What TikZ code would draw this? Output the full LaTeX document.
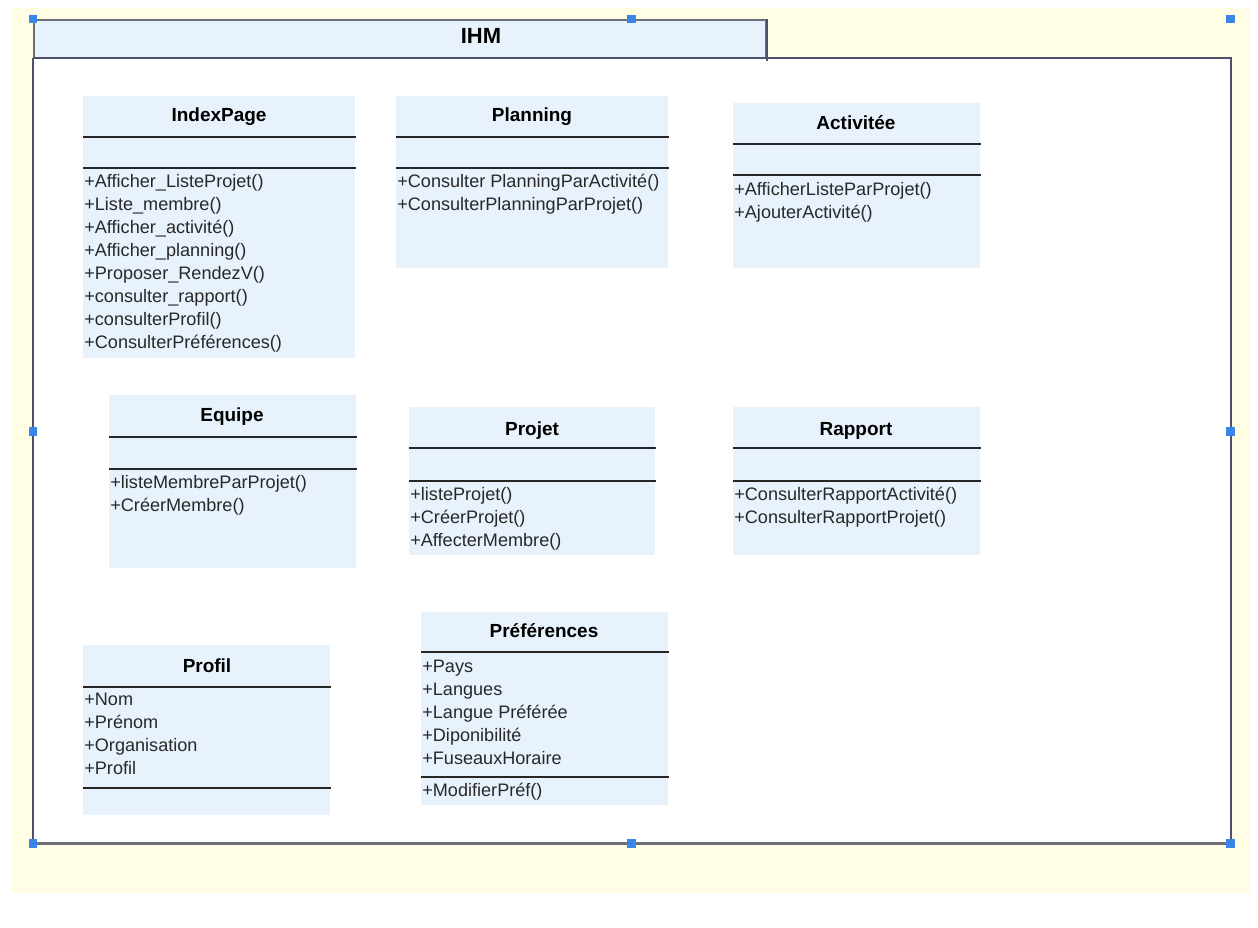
\documentclass[tikz,border=0pt]{standalone}
\usepackage{fontspec}
\setmainfont{Liberation Sans}
\usepackage{xcolor}
\usetikzlibrary{positioning}
\usetikzlibrary{calc}
\definecolor{pagecolor}{RGB}{255, 254, 228}
\definecolor{classcolor}{RGB}{232, 242, 253}
\definecolor{framecolor}{RGB}{78, 80, 110}
\definecolor{tabedgecolor}{RGB}{110, 110, 120}
\definecolor{handlecolor}{RGB}{58, 134, 232}
\definecolor{membercolor}{RGB}{40, 40, 40}
\tikzstyle{classbox} = [
    rectangle,
    fill=classcolor,
    anchor=north west,
    inner sep=0pt
]
\tikzstyle{classtitle} = [anchor=base, inner sep=0pt, font=\bfseries\fontsize{10.8}{12}\selectfont, text=black]
\tikzstyle{member} = [anchor=base west, inner sep=0pt, font=\fontsize{10.3}{12}\selectfont, text=membercolor]
\tikzstyle{sep} = [line width=0.9pt, black!85]
\tikzstyle{frame} = [line width=1pt, framecolor]
\tikzstyle{handle} = [rectangle, fill=handlecolor, minimum size=5pt, inner sep=0pt]
% one class compartment list, one name per line
\newcommand{\classmembers}[4]{%
    \foreach \txt [count=\i] in {#4}
        \node[member] (#1-\i) at (#2, {#3+23*(\i-1)}) {\txt};
}

\begin{document}
\begin{tikzpicture}[x=0.02cm, y=-0.02cm]

	% Canvas
	\useasboundingbox[fill=white] (0,0) rectangle (1258,928);
	\fill[pagecolor] (12,8) rectangle (1250,893);

	%
	% Package IHM
	\node[classbox, minimum width=732*0.02cm, minimum height=40*0.02cm, draw=tabedgecolor, line width=1pt] (ihmtab) at (33,19) {};
	\node[classbox, fill=white, minimum width=1197*0.02cm, minimum height=785*0.02cm] (ihm) at (33,58) {};
	\draw[frame] (ihm.north west) -- (ihm.north east) -- (ihm.south east);
	\draw[frame] (ihm.north west) -- (ihm.south west);
	\draw[frame] (ihmtab.north east) -- (ihmtab.south east);
	\draw[line width=1.6pt, tabedgecolor] (ihm.south west) -- (ihm.south east);
	\node[classtitle, font=\bfseries\fontsize{12.5}{14}\selectfont] (ihmlabel) at (481,44) {IHM};

	%
	% First row

	% IndexPage
	\node[classbox, minimum width=272*0.02cm, minimum height=262*0.02cm] (indexpage) at (83,96) {};
	\node[classtitle] (indexpage-title) at (219,122) {IndexPage};
	\draw[sep] (indexpage.west |- 0,137) -- (indexpage.east |- 0,137);
	\draw[sep] (indexpage.west |- 0,168) -- (indexpage.east |- 0,168);
	\classmembers{indexpage}{84}{188}{+Afficher\_ListeProjet(), +Liste\_membre(), +Afficher\_activité(), +Afficher\_planning(), +Proposer\_RendezV(), +consulter\_rapport(), +consulterProfil(), +ConsulterPréférences()}

	% Planning
	\node[classbox, minimum width=272*0.02cm, minimum height=172*0.02cm] (planning) at (396,96) {};
	\node[classtitle] (planning-title) at (532,122) {Planning};
	\draw[sep] (planning.west |- 0,137) -- (planning.east |- 0,137);
	\draw[sep] (planning.west |- 0,168) -- (planning.east |- 0,168);
	\classmembers{planning}{397}{188}{+Consulter PlanningParActivité(), +ConsulterPlanningParProjet()}

	% Activitee
	\node[classbox, minimum width=247*0.02cm, minimum height=165*0.02cm] (activitee) at (733,103) {};
	\node[classtitle] (activitee-title) at (856,130) {Activitée};
	\draw[sep] (activitee.west |- 0,144) -- (activitee.east |- 0,144);
	\draw[sep] (activitee.west |- 0,175) -- (activitee.east |- 0,175);
	\classmembers{activitee}{734}{196}{+AfficherListeParProjet(), +AjouterActivité()}

	%
	% Second row

	% Equipe
	\node[classbox, minimum width=247*0.02cm, minimum height=173*0.02cm] (equipe) at (109,395) {};
	\node[classtitle] (equipe-title) at (232,422) {Equipe};
	\draw[sep] (equipe.west |- 0,437) -- (equipe.east |- 0,437);
	\draw[sep] (equipe.west |- 0,469) -- (equipe.east |- 0,469);
	\classmembers{equipe}{110}{489}{+listeMembreParProjet(), +CréerMembre()}

	% Projet
	\node[classbox, minimum width=246*0.02cm, minimum height=148*0.02cm] (projet) at (409,407) {};
	\node[classtitle] (projet-title) at (532,436) {Projet};
	\draw[sep] (projet.west |- 0,448) -- (projet.east |- 0,448);
	\draw[sep] (projet.west |- 0,481) -- (projet.east |- 0,481);
	\classmembers{projet}{410}{501}{+listeProjet(), +CréerProjet(), +AffecterMembre()}

	% Rapport
	\node[classbox, minimum width=247*0.02cm, minimum height=148*0.02cm] (rapport) at (733,407) {};
	\node[classtitle] (rapport-title) at (856,436) {Rapport};
	\draw[sep] (rapport.west |- 0,448) -- (rapport.east |- 0,448);
	\draw[sep] (rapport.west |- 0,481) -- (rapport.east |- 0,481);
	\classmembers{rapport}{734}{501}{+ConsulterRapportActivité(), +ConsulterRapportProjet()}

	%
	% Third row

	% Preferences
	\node[classbox, minimum width=247*0.02cm, minimum height=193*0.02cm] (preferences) at (421,612) {};
	\node[classtitle] (preferences-title) at (544,638) {Préférences};
	\draw[sep] (preferences.west |- 0,652) -- (preferences.east |- 0,652);
	\classmembers{preferences}{422}{673}{+Pays, +Langues, +Langue Préférée, +Diponibilité, +FuseauxHoraire}
	\draw[sep] (preferences.west |- 0,777) -- (preferences.east |- 0,777);
	\node[member] (preferences-op) at (422,797) {+ModifierPréf()};

	% Profil
	\node[classbox, minimum width=247*0.02cm, minimum height=170*0.02cm] (profil) at (83,645) {};
	\node[classtitle] (profil-title) at (207,673) {Profil};
	\draw[sep] (profil.west |- 0,687) -- (profil.east |- 0,687);
	\classmembers{profil}{84}{706}{+Nom, +Prénom, +Organisation, +Profil}
	\draw[sep] (profil.west |- 0,788) -- (profil.east |- 0,788);

	%
	% Selection handles
	\coordinate (sel-nw) at (ihmtab.north west);
	\coordinate (sel-ne) at (ihm.east |- ihmtab.north);
	\coordinate (sel-sw) at (ihm.south west);
	\coordinate (sel-se) at (ihm.south east);
	\foreach \pos [count=\k] in {sel-nw, sel-ne, sel-sw, sel-se}
		\node[handle] (handle-\k) at (\pos) {};
	\node[handle] (handle-n) at ($(sel-nw)!0.5!(sel-ne)$) {};
	\node[handle] (handle-s) at ($(sel-sw)!0.5!(sel-se)$) {};
	\node[handle] (handle-w) at ($(sel-nw)!0.5!(sel-sw)$) {};
	\node[handle] (handle-e) at ($(sel-ne)!0.5!(sel-se)$) {};

\end{tikzpicture}
\end{document}
